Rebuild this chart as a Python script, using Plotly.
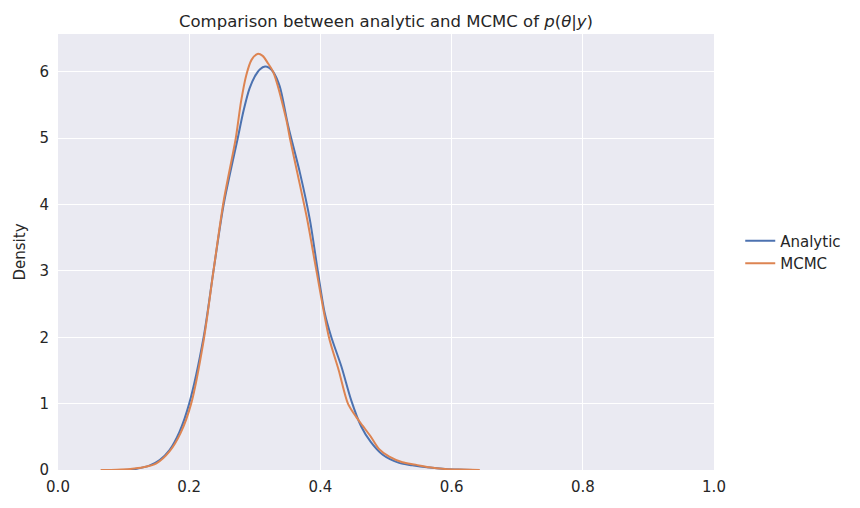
import plotly.graph_objects as go

# 분석적 사후분포 (KDE 곡선 값, 그림에서 읽음)
analytic_x = [0.10, 0.12, 0.14, 0.155, 0.17, 0.185, 0.20, 0.222, 0.237, 0.2525, 0.274, 0.283, 0.292,
              0.30, 0.308, 0.3156, 0.322, 0.328, 0.338, 0.351, 0.369, 0.384, 0.396, 0.4065, 0.4167,
              0.432, 0.447, 0.462, 0.477, 0.495, 0.52, 0.54, 0.566, 0.59, 0.61, 0.633]
analytic_y = [0.0, 0.02, 0.07, 0.15, 0.30, 0.57, 1.0, 2.0, 3.0, 4.0, 5.0, 5.42, 5.75,
              5.93, 6.04, 6.08, 6.06, 6.0, 5.78, 5.18, 4.47, 3.77, 3.0, 2.37, 2.0,
              1.56, 1.05, 0.66, 0.42, 0.23, 0.107, 0.07, 0.036, 0.015, 0.006, 0.0]

# MCMC 샘플 KDE
mcmc_x = [0.065, 0.09, 0.11, 0.13, 0.15, 0.17, 0.187, 0.203, 0.222, 0.237, 0.2525, 0.271, 0.279,
          0.287, 0.295, 0.304, 0.312, 0.32, 0.328, 0.348, 0.3535, 0.365, 0.38, 0.394, 0.413,
          0.428, 0.442, 0.4545, 0.465, 0.477, 0.49, 0.505, 0.525, 0.545, 0.566, 0.59, 0.615, 0.643]
mcmc_y = [0.0, 0.005, 0.015, 0.04, 0.10, 0.28, 0.56, 1.0, 1.95, 3.0, 4.05, 5.0, 5.55,
          5.95, 6.18, 6.27, 6.24, 6.13, 6.0, 5.28, 5.0, 4.47, 3.77, 3.0, 2.0,
          1.5, 1.0, 0.8, 0.66, 0.5, 0.31, 0.2, 0.116, 0.081, 0.04, 0.015, 0.006, 0.0]

fig = go.Figure()
fig.add_trace(go.Scatter(x=analytic_x, y=analytic_y, mode='lines', name='Analytic',
                         line=dict(color='#4C72B0', width=2, shape='spline', smoothing=0.8)))
fig.add_trace(go.Scatter(x=mcmc_x, y=mcmc_y, mode='lines', name='MCMC',
                         line=dict(color='#DD8452', width=2, shape='spline', smoothing=0.8)))

fig.update_layout(
    width=860, height=508,
    margin=dict(l=50, r=154, t=26, b=46),
    paper_bgcolor='white',
    plot_bgcolor='#EAEAF2',
    font=dict(family='DejaVu Sans', size=15, color='#262626'),
    title=dict(text='Comparison between analytic and MCMC of <i>p</i>(<i>θ</i>|<i>y</i>)',
               x=0.5, xref='paper', xanchor='center', y=0.985, yanchor='top',
               font=dict(size=16.5)),
    xaxis=dict(range=[0, 1], tickvals=[0, 0.2, 0.4, 0.6, 0.8, 1.0], tickformat='.1f',
               showgrid=True, gridcolor='white', gridwidth=1.3, zeroline=False,
               showline=False, ticks='', ticklabelstandoff=6),
    yaxis=dict(range=[0, 6.57], tickvals=[0, 1, 2, 3, 4, 5, 6],
               title=dict(text='Density', standoff=10, font=dict(size=15)),
               showgrid=True, gridcolor='white', gridwidth=1.3, zeroline=False,
               showline=False, ticks='', ticklabelstandoff=8),
    legend=dict(x=1.04, y=0.5, xanchor='left', yanchor='middle',
                bgcolor='rgba(0,0,0,0)', font=dict(size=15)),
    showlegend=True
)

fig.write_html("out.html")
